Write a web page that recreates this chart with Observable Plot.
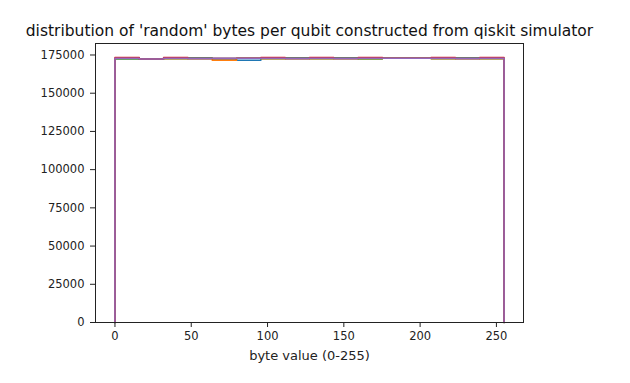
<!DOCTYPE html>
<html>
<head>
<meta charset="utf-8">
<script src="https://cdn.jsdelivr.net/npm/d3@7"></script>
<script src="https://cdn.jsdelivr.net/npm/@observablehq/plot@0.6"></script>
<style>
  html, body { margin: 0; padding: 0; background: #fff; }
  #chart svg { display: block; }
</style>
</head>
<body>
<div id="chart"></div>
<script>
// ---- data ----
const titleText = "distribution of 'random' bytes per qubit constructed from qiskit simulator";
const xLabel = "byte value (0-255)";
const binCount = 16;
const byteMin = 0;
const byteMax = 255;
const seriesNames = ["qubit 0", "qubit 1", "qubit 2", "qubit 3", "qubit 4"];
const seriesColors = ["#1f77b4", "#ff7f0e", "#2ca02c", "#d62728", "#9467bd"];
// counts per bin (16 bins) for each qubit
const qubit0 = [172600, 172400, 172700, 172600, 172500, 171600, 172700, 172600, 172700, 172600, 172700, 172800, 172800, 172700, 172600, 172700];
const qubit1 = [172700, 172400, 172600, 172700, 171600, 172800, 172600, 172700, 172600, 172700, 172600, 172800, 172800, 172600, 172700, 172600];
const qubit2 = [172600, 172400, 172700, 173200, 172700, 172800, 172700, 173200, 172700, 173200, 172600, 172800, 172800, 172700, 173200, 172700];
const qubit3 = [173300, 172400, 173300, 172700, 172700, 172800, 173300, 172700, 173300, 172700, 173300, 172800, 172800, 173300, 172700, 173300];
const qubit4 = [172800, 172400, 172800, 172800, 172900, 172900, 172800, 172800, 172800, 172800, 172800, 172900, 172900, 172800, 172800, 172800];
const seriesValues = [qubit0, qubit1, qubit2, qubit3, qubit4];
const yTicks = [0, 25000, 50000, 75000, 100000, 125000, 150000, 175000];
const xTicks = [0, 50, 100, 150, 200, 250];

// ---- build step outlines (histtype = step) ----
const edges = d3.range(binCount + 1).map(i => byteMin + i * (byteMax - byteMin) / binCount);
const points = [];
seriesNames.forEach((name, s) => {
  const vals = seriesValues[s];
  points.push({series: name, x: edges[0], y: 0});
  vals.forEach((v, i) => points.push({series: name, x: edges[i], y: v}));
  points.push({series: name, x: edges[binCount], y: vals[binCount - 1]});
  points.push({series: name, x: edges[binCount], y: 0});
});

const span = byteMax - byteMin;
const font = "DejaVu Sans, sans-serif";

const plot = Plot.plot({
  width: 630,
  height: 383,
  marginLeft: 95,
  marginRight: 107,
  marginTop: 43,
  marginBottom: 61,
  style: {fontFamily: font, fontSize: "11.5px", color: "#222", background: "#fff"},
  x: {domain: [byteMin - 0.05 * span, byteMax + 0.05 * span], label: null},
  y: {domain: [0, 182520], label: null},
  color: {domain: seriesNames, range: seriesColors},
  marks: [
    Plot.line(points, {x: "x", y: "y", z: "series", stroke: "series", strokeWidth: 1.5, curve: "step-after"}),
    Plot.frame({stroke: "#222", strokeWidth: 1}),
    Plot.axisX({ticks: xTicks, tickFormat: d => String(d), tickSize: 5, tickPadding: 4, stroke: "#222", fill: "#222", fontSize: "11.5px", label: null}),
    Plot.axisY({ticks: yTicks, tickFormat: d => String(d), tickSize: 5, tickPadding: 6, stroke: "#222", fill: "#222", fontSize: "11.5px", label: null}),
    Plot.text([titleText], {frameAnchor: "top", lineAnchor: "middle", dy: -12, text: d => d, fontSize: 15.5, fill: "#111"}),
    Plot.text([xLabel], {frameAnchor: "bottom", lineAnchor: "middle", dy: 33, text: d => d, fontSize: 13, fill: "#222"})
  ]
});
document.getElementById("chart").appendChild(plot);
</script>
</body>
</html>
